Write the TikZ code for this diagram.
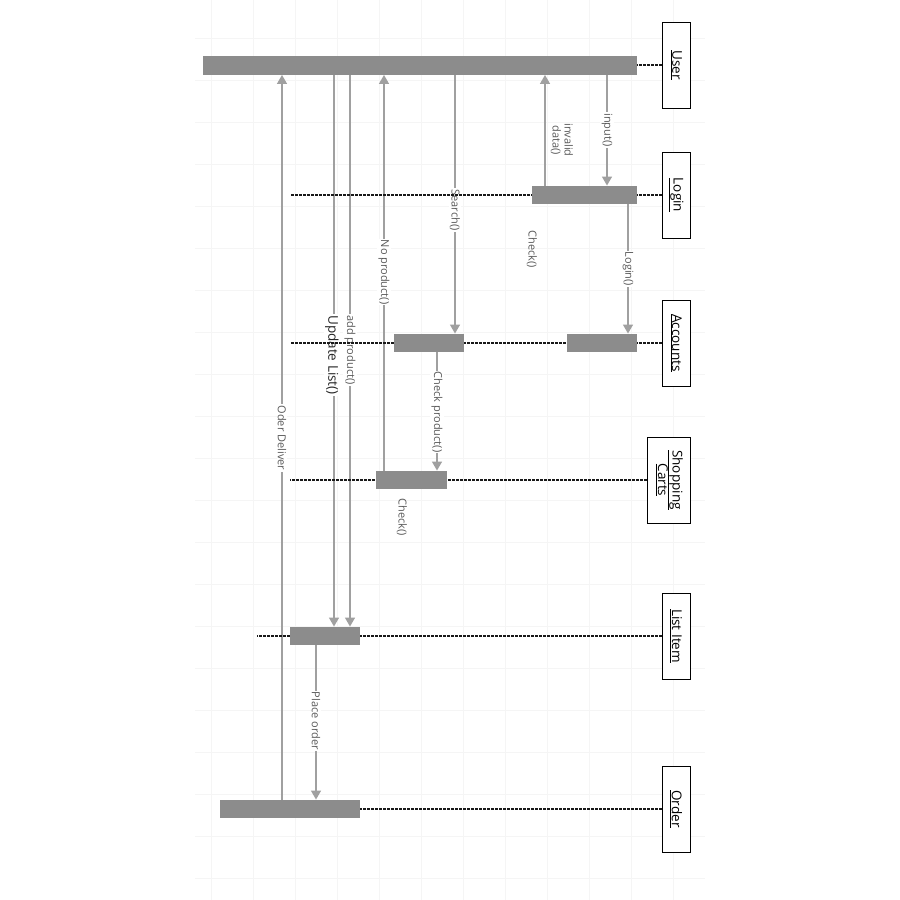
\documentclass[tikz,border=0pt]{standalone}
\usepackage{fontspec}
\usepackage{graphicx}
\setmainfont{Open Sans}
\usetikzlibrary{arrows.meta}
\definecolor{barc}{HTML}{8C8C8C}
\definecolor{msgc}{HTML}{A0A0A0}
\definecolor{lblc}{HTML}{5A5A5A}
\definecolor{gridc}{HTML}{F5F5F5}
\begin{document}
\begin{tikzpicture}[x=1pt,y=-1pt,
  bar/.style={fill=barc, draw=none, inner sep=0pt, minimum height=18.5pt},
  head/.style={draw=black, line width=1pt, fill=white, inner sep=0pt, minimum width=28pt, minimum height=86pt, text=black, font=\fontsize{13.5}{16}\selectfont},
  life/.style={draw=black!90, line width=1.1pt, dash pattern=on 2.5pt off 1.5pt},
  msg/.style={draw=msgc, line width=1.4pt, -{Triangle[width=10pt,length=9pt,fill=msgc]}},
  lbl/.style={rotate=-90, fill=white, inner sep=1.2pt, text=lblc, font=\fontsize{11}{12}\selectfont},
  plain/.style={rotate=-90, inner sep=1pt, text=lblc, font=\fontsize{11}{12}\selectfont, align=center},
]
\useasboundingbox (0,0) rectangle (900,900);
% faint grid
\foreach \gx in {211,253,295,337,379,421,463,505,547,589,631,673} \draw[gridc, line width=0.6pt] (\gx,0) -- (\gx,900);
\foreach \gy in {38,80,122,164,206,248,290,332,374,416,458,500,542,584,626,668,710,752,794,836,878} \draw[gridc, line width=0.6pt] (195,\gy) -- (705,\gy);

% head boxes
\node[head] (hUser) at (676,65) {\rotatebox{-90}{\underline{User}}};
\node[head] (hLogin) at (676,195) {\rotatebox{-90}{\underline{Login}}};
\node[head] (hAcc) at (676,343) {\rotatebox{-90}{\underline{Accounts}}};
\node[head, minimum width=43pt] (hCart) at (668.5,480) {\rotatebox{-90}{\begin{tabular}{@{}c@{}}\underline{Shopping}\\[-2pt]\underline{Carts}\end{tabular}}};
\node[head] (hList) at (676,636) {\rotatebox{-90}{\underline{List Item}}};
\node[head] (hOrder) at (676,809) {\rotatebox{-90}{\underline{Order}}};

% bars (positions only, drawn later)
\path node[bar, minimum width=434pt] (bUser) at (420,65.5) {}
      node[bar, minimum width=105pt] (bLogin) at (584.5,195) {}
      node[bar, minimum width=70pt] (bAcc1) at (429,343) {}
      node[bar, minimum width=70pt] (bAcc2) at (602,343) {}
      node[bar, minimum width=71pt] (bCart) at (411.5,480) {}
      node[bar, minimum width=70pt] (bList) at (325,636) {}
      node[bar, minimum width=140pt] (bOrder) at (290,809) {};

% message x positions
\coordinate (xIn) at (607,0);
\coordinate (xInv) at (545,0);
\coordinate (xLog) at (628,0);
\coordinate (xSea) at (455,0);
\coordinate (xChp) at (437,0);
\coordinate (xNop) at (384,0);
\coordinate (xAdd) at (350,0);
\coordinate (xUpd) at (334,0);
\coordinate (xDel) at (282,0);
\coordinate (xPla) at (316,0);

% messages
\draw[msg] (bUser.south -| xIn) -- (bLogin.north -| xIn);
\draw[msg] (bLogin.north -| xInv) -- (bUser.south -| xInv);
\draw[msg] (bLogin.south -| xLog) -- (bAcc2.north -| xLog);
\draw[msg] (bUser.south -| xSea) -- (bAcc1.north -| xSea);
\draw[msg] (bAcc1.south -| xChp) -- (bCart.north -| xChp);
\draw[msg] (bCart.north -| xNop) -- (bUser.south -| xNop);
\draw[msg] (bUser.south -| xAdd) -- (bList.north -| xAdd);
\draw[msg] (bUser.south -| xUpd) -- (bList.north -| xUpd);
\draw[msg] (bOrder.north -| xDel) -- (bUser.south -| xDel);
\draw[msg] (bList.south -| xPla) -- (bOrder.north -| xPla);

% labels
\node[lbl] (lIn) at (607,130) {input()};
\node[plain] (lInv) at (562,140) {invalid\\data()};
\node[lbl] (lLog) at (628,269) {Login()};
\node[plain] (lChk1) at (532,249) {Check()};
\node[lbl] (lSea) at (455,210) {Search()};
\node[lbl] (lChp) at (437,412) {Check product()};
\node[plain] (lChk2) at (402,517) {Check()};
\node[lbl] (lNop) at (384,272) {No product()};
\node[lbl] (lAdd) at (350,350) {add product()};
\node[lbl, text=black!85, font=\fontsize{13.5}{15}\selectfont] (lUpd) at (332,355) {Update List()};
\node[lbl] (lDel) at (282,438) {Oder Deliver};
\node[lbl] (lPla) at (316,721) {Place order};

% lifelines
\coordinate (eUser) at (637,65);
\coordinate (eLogin) at (290,195);
\coordinate (eAcc) at (290,343);
\coordinate (eCart) at (290,480);
\coordinate (eList) at (257,636);
\coordinate (eOrder) at (360,809);
\draw[life] (hUser.west) -- (eUser);
\draw[life] (hLogin.west) -- (eLogin);
\draw[life] (hAcc.west) -- (eAcc);
\draw[life] (hCart.west) -- (eCart);
\draw[life] (hList.west) -- (eList);
\draw[life] (hOrder.west) -- (eOrder);

% bars on top
\foreach \b in {bUser,bLogin,bAcc1,bAcc2,bCart,bList,bOrder}
  \fill[barc] (\b.south west) rectangle (\b.north east);
\end{tikzpicture}
\end{document}
